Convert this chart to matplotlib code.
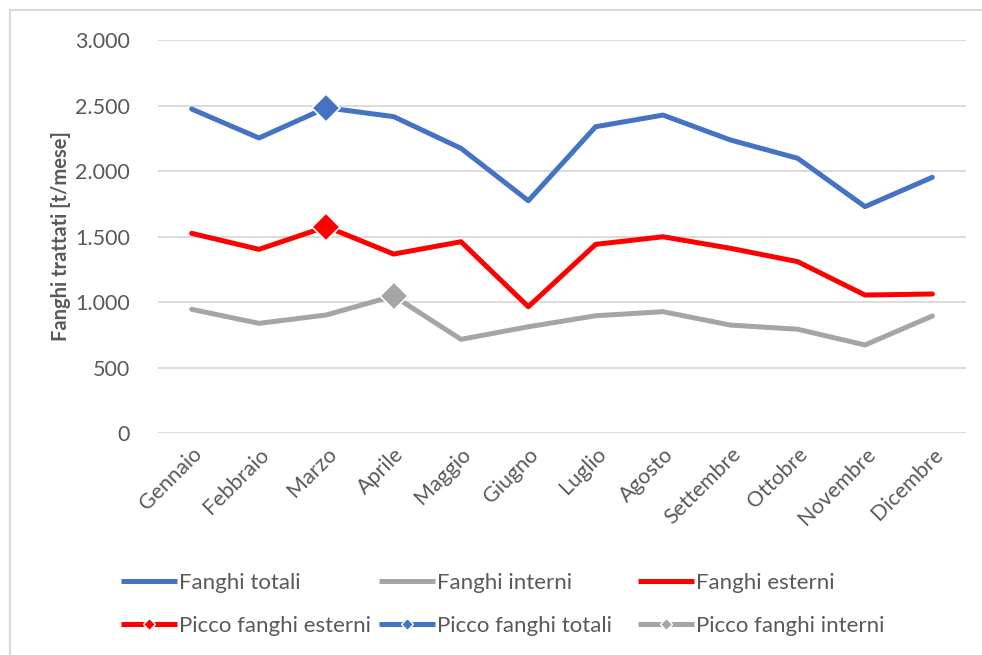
import matplotlib
matplotlib.use("Agg")
import matplotlib.pyplot as plt
import numpy as np
from matplotlib.lines import Line2D
from matplotlib.patches import Rectangle

plt.rcParams['font.family'] = ['Lato', 'DejaVu Sans']

mesi = ["Gennaio", "Febbraio", "Marzo", "Aprile", "Maggio", "Giugno",
        "Luglio", "Agosto", "Settembre", "Ottobre", "Novembre", "Dicembre"]
fanghi_totali = [2473, 2252, 2483, 2415, 2173, 1773, 2338, 2427, 2237, 2097, 1728, 1952]
fanghi_interni = [944, 837, 901, 1046, 715, 811, 895, 926, 824, 792, 672, 893]
fanghi_esterni = [1524, 1402, 1575, 1366, 1460, 964, 1440, 1498, 1410, 1308, 1053, 1061]
picco_esterni = [np.nan, np.nan, 1575, np.nan, np.nan, np.nan, np.nan, np.nan, np.nan, np.nan, np.nan, np.nan]
picco_totali = [np.nan, np.nan, 2483, np.nan, np.nan, np.nan, np.nan, np.nan, np.nan, np.nan, np.nan, np.nan]
picco_interni = [np.nan, np.nan, np.nan, 1046, np.nan, np.nan, np.nan, np.nan, np.nan, np.nan, np.nan, np.nan]
yticks = [0, 500, 1000, 1500, 2000, 2500, 3000]
ytick_labels = ["0", "500", "1.000", "1.500", "2.000", "2.500", "3.000"]

BLUE = "#4472C4"
GREY = "#A5A5A5"
RED = "#FF0000"
TXT = "#595959"

fig = plt.figure(figsize=(9.82, 6.55), dpi=100)
ax = fig.add_axes([158/982, (655-433)/655, (966-158)/982, (433-40)/655])

x = np.arange(len(mesi))
lw = 3.6
ax.plot(x, fanghi_totali, color=BLUE, lw=lw, solid_capstyle='round', solid_joinstyle='round', zorder=3)
ax.plot(x, fanghi_interni, color=GREY, lw=lw, solid_capstyle='round', solid_joinstyle='round', zorder=3)
ax.plot(x, fanghi_esterni, color=RED, lw=lw, solid_capstyle='round', solid_joinstyle='round', zorder=3)
ax.plot(x, picco_esterni, color=RED, marker='D', ms=14, mec='white', mew=1.2, lw=0, zorder=4)
ax.plot(x, picco_totali, color=BLUE, marker='D', ms=14, mec='white', mew=1.2, lw=0, zorder=4)
ax.plot(x, picco_interni, color=GREY, marker='D', ms=14, mec='white', mew=1.2, lw=0, zorder=4)

ax.set_xlim(-0.5, 11.5)
ax.set_ylim(0, 3000)
ax.set_yticks(yticks)
ax.set_yticklabels(ytick_labels)
ax.set_xticks(x)
ax.set_xticklabels(mesi, rotation=45, ha='right', rotation_mode='anchor')
ax.tick_params(axis='both', length=0, labelsize=15.5, labelcolor=TXT)
ax.tick_params(axis='y', pad=20)
ax.tick_params(axis='x', pad=8)
ax.grid(axis='y', color='#D9D9D9', lw=1.3, zorder=0)
for s in ax.spines.values():
    s.set_visible(False)
ax.set_ylabel("Fanghi trattati [t/mese]", fontsize=14.5, fontweight='bold', color=TXT, labelpad=3)

def h(color, marker=False):
    if marker:
        return Line2D([], [], color=color, lw=lw, marker='D', ms=6, mec='white', mew=1,
                      solid_capstyle='butt')
    return Line2D([], [], color=color, lw=lw, solid_capstyle='butt')

columns = [
    ([h(BLUE), h(RED, True)], ["Fanghi totali", "Picco fanghi esterni"], 121),
    ([h(GREY), h(BLUE, True)], ["Fanghi interni", "Picco fanghi totali"], 379),
    ([h(RED), h(GREY, True)], ["Fanghi esterni", "Picco fanghi interni"], 638),
]
for hs, ls, xpx in columns:
    leg = fig.legend(hs, ls, ncol=1, loc='center left',
                     bbox_to_anchor=(xpx/982, 1 - 604.5/655), frameon=False,
                     fontsize=16, handlelength=2.5, handletextpad=0.1,
                     labelspacing=1.03, borderaxespad=0, borderpad=0)
    for t in leg.get_texts():
        t.set_color(TXT)

fig.patches.append(Rectangle((10/982, -0.1), 1.2, 1 - 10/655 + 0.1, transform=fig.transFigure,
                             fill=False, edgecolor='#D9D9D9', lw=1.5))

fig.savefig("out.png", dpi=100)
